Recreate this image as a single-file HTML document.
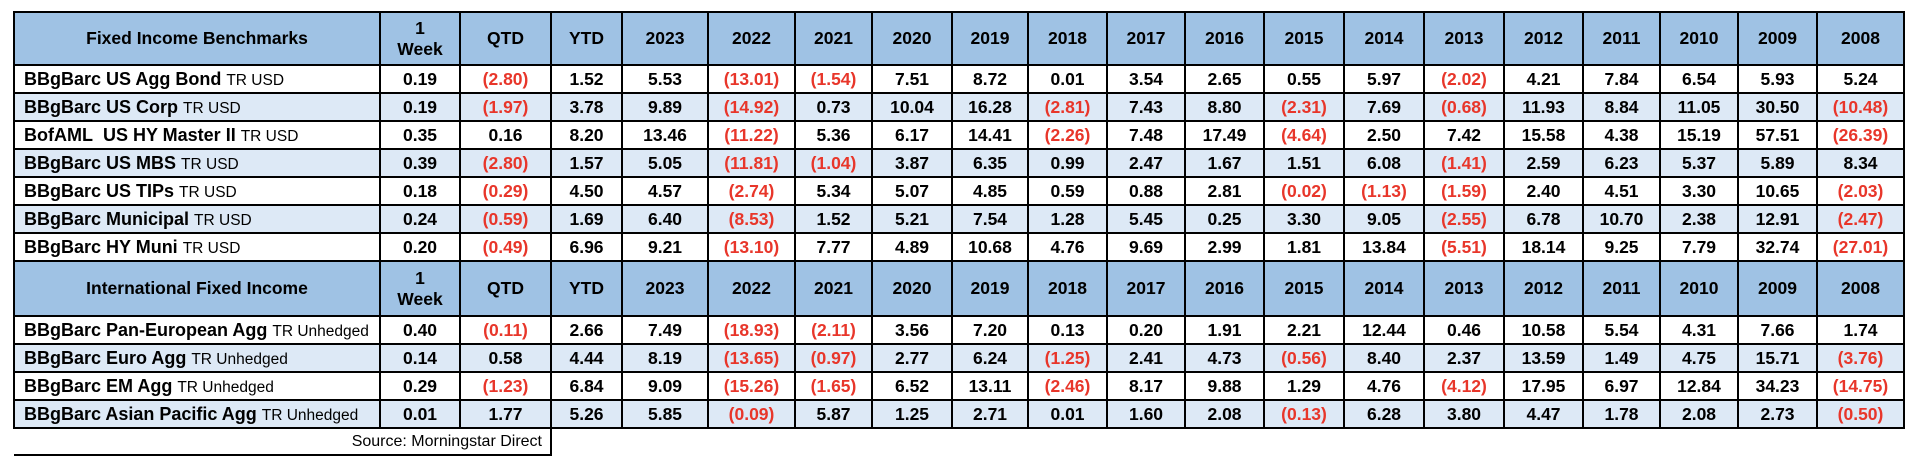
<!DOCTYPE html>
<html><head><meta charset="utf-8"><style>
html,body{margin:0;padding:0;background:#fff;width:1918px;height:470px;overflow:hidden}
table{position:absolute;left:13px;top:11px;border-collapse:collapse;table-layout:fixed;width:1892px;font-family:"Liberation Sans",sans-serif}
td,th{border:2px solid #000;padding:0;text-align:center;font-weight:bold;font-size:17.5px;color:#000;white-space:nowrap;overflow:hidden}
th{background:#9fc2e4;height:51px;font-size:17.5px;line-height:21px}
tr.h2 th{height:53px}
td{height:26px}
tr.b td{background:#dde9f6}
td.n{text-align:left;padding-left:9px;font-size:18px}
td.n span{font-weight:normal;font-size:15.5px}
.r{color:#e8362a}
tr.s td{border:none;height:25px;font-weight:normal;font-size:16px;text-align:right;padding-right:8px}
tr.s td.sb{border-bottom:2px solid #000;border-right:2px solid #000}
</style></head><body>
<table>
<colgroup><col style="width:366px"><col style="width:80px"><col style="width:91px"><col style="width:71px"><col style="width:86px"><col style="width:87px"><col style="width:77px"><col style="width:80px"><col style="width:76px"><col style="width:79px"><col style="width:78px"><col style="width:79px"><col style="width:80px"><col style="width:80px"><col style="width:80px"><col style="width:79px"><col style="width:77px"><col style="width:78px"><col style="width:79px"><col style="width:87px"></colgroup>
<tr><th>Fixed Income Benchmarks</th><th>1<br>Week</th><th>QTD</th><th>YTD</th><th>2023</th><th>2022</th><th>2021</th><th>2020</th><th>2019</th><th>2018</th><th>2017</th><th>2016</th><th>2015</th><th>2014</th><th>2013</th><th>2012</th><th>2011</th><th>2010</th><th>2009</th><th>2008</th></tr>
<tr><td class="n">BBgBarc US Agg Bond <span>TR USD</span></td><td>0.19</td><td class="r">(2.80)</td><td>1.52</td><td>5.53</td><td class="r">(13.01)</td><td class="r">(1.54)</td><td>7.51</td><td>8.72</td><td>0.01</td><td>3.54</td><td>2.65</td><td>0.55</td><td>5.97</td><td class="r">(2.02)</td><td>4.21</td><td>7.84</td><td>6.54</td><td>5.93</td><td>5.24</td></tr>
<tr class="b"><td class="n">BBgBarc US Corp <span>TR USD</span></td><td>0.19</td><td class="r">(1.97)</td><td>3.78</td><td>9.89</td><td class="r">(14.92)</td><td>0.73</td><td>10.04</td><td>16.28</td><td class="r">(2.81)</td><td>7.43</td><td>8.80</td><td class="r">(2.31)</td><td>7.69</td><td class="r">(0.68)</td><td>11.93</td><td>8.84</td><td>11.05</td><td>30.50</td><td class="r">(10.48)</td></tr>
<tr><td class="n">BofAML&nbsp; US HY Master II <span>TR USD</span></td><td>0.35</td><td>0.16</td><td>8.20</td><td>13.46</td><td class="r">(11.22)</td><td>5.36</td><td>6.17</td><td>14.41</td><td class="r">(2.26)</td><td>7.48</td><td>17.49</td><td class="r">(4.64)</td><td>2.50</td><td>7.42</td><td>15.58</td><td>4.38</td><td>15.19</td><td>57.51</td><td class="r">(26.39)</td></tr>
<tr class="b"><td class="n">BBgBarc US MBS <span>TR USD</span></td><td>0.39</td><td class="r">(2.80)</td><td>1.57</td><td>5.05</td><td class="r">(11.81)</td><td class="r">(1.04)</td><td>3.87</td><td>6.35</td><td>0.99</td><td>2.47</td><td>1.67</td><td>1.51</td><td>6.08</td><td class="r">(1.41)</td><td>2.59</td><td>6.23</td><td>5.37</td><td>5.89</td><td>8.34</td></tr>
<tr><td class="n">BBgBarc US TIPs <span>TR USD</span></td><td>0.18</td><td class="r">(0.29)</td><td>4.50</td><td>4.57</td><td class="r">(2.74)</td><td>5.34</td><td>5.07</td><td>4.85</td><td>0.59</td><td>0.88</td><td>2.81</td><td class="r">(0.02)</td><td class="r">(1.13)</td><td class="r">(1.59)</td><td>2.40</td><td>4.51</td><td>3.30</td><td>10.65</td><td class="r">(2.03)</td></tr>
<tr class="b"><td class="n">BBgBarc Municipal <span>TR USD</span></td><td>0.24</td><td class="r">(0.59)</td><td>1.69</td><td>6.40</td><td class="r">(8.53)</td><td>1.52</td><td>5.21</td><td>7.54</td><td>1.28</td><td>5.45</td><td>0.25</td><td>3.30</td><td>9.05</td><td class="r">(2.55)</td><td>6.78</td><td>10.70</td><td>2.38</td><td>12.91</td><td class="r">(2.47)</td></tr>
<tr><td class="n">BBgBarc HY Muni <span>TR USD</span></td><td>0.20</td><td class="r">(0.49)</td><td>6.96</td><td>9.21</td><td class="r">(13.10)</td><td>7.77</td><td>4.89</td><td>10.68</td><td>4.76</td><td>9.69</td><td>2.99</td><td>1.81</td><td>13.84</td><td class="r">(5.51)</td><td>18.14</td><td>9.25</td><td>7.79</td><td>32.74</td><td class="r">(27.01)</td></tr>
<tr class="h2"><th>International Fixed Income</th><th>1<br>Week</th><th>QTD</th><th>YTD</th><th>2023</th><th>2022</th><th>2021</th><th>2020</th><th>2019</th><th>2018</th><th>2017</th><th>2016</th><th>2015</th><th>2014</th><th>2013</th><th>2012</th><th>2011</th><th>2010</th><th>2009</th><th>2008</th></tr>
<tr><td class="n">BBgBarc Pan-European Agg <span>TR Unhedged</span></td><td>0.40</td><td class="r">(0.11)</td><td>2.66</td><td>7.49</td><td class="r">(18.93)</td><td class="r">(2.11)</td><td>3.56</td><td>7.20</td><td>0.13</td><td>0.20</td><td>1.91</td><td>2.21</td><td>12.44</td><td>0.46</td><td>10.58</td><td>5.54</td><td>4.31</td><td>7.66</td><td>1.74</td></tr>
<tr class="b"><td class="n">BBgBarc Euro Agg <span>TR Unhedged</span></td><td>0.14</td><td>0.58</td><td>4.44</td><td>8.19</td><td class="r">(13.65)</td><td class="r">(0.97)</td><td>2.77</td><td>6.24</td><td class="r">(1.25)</td><td>2.41</td><td>4.73</td><td class="r">(0.56)</td><td>8.40</td><td>2.37</td><td>13.59</td><td>1.49</td><td>4.75</td><td>15.71</td><td class="r">(3.76)</td></tr>
<tr><td class="n">BBgBarc EM Agg <span>TR Unhedged</span></td><td>0.29</td><td class="r">(1.23)</td><td>6.84</td><td>9.09</td><td class="r">(15.26)</td><td class="r">(1.65)</td><td>6.52</td><td>13.11</td><td class="r">(2.46)</td><td>8.17</td><td>9.88</td><td>1.29</td><td>4.76</td><td class="r">(4.12)</td><td>17.95</td><td>6.97</td><td>12.84</td><td>34.23</td><td class="r">(14.75)</td></tr>
<tr class="b"><td class="n">BBgBarc Asian Pacific Agg <span>TR Unhedged</span></td><td>0.01</td><td>1.77</td><td>5.26</td><td>5.85</td><td class="r">(0.09)</td><td>5.87</td><td>1.25</td><td>2.71</td><td>0.01</td><td>1.60</td><td>2.08</td><td class="r">(0.13)</td><td>6.28</td><td>3.80</td><td>4.47</td><td>1.78</td><td>2.08</td><td>2.73</td><td class="r">(0.50)</td></tr>
<tr class="s"><td colspan="3" class="sb">Source: Morningstar Direct</td><td colspan="17" style="border-top:2px solid #000"></td></tr>
</table>
</body></html>
